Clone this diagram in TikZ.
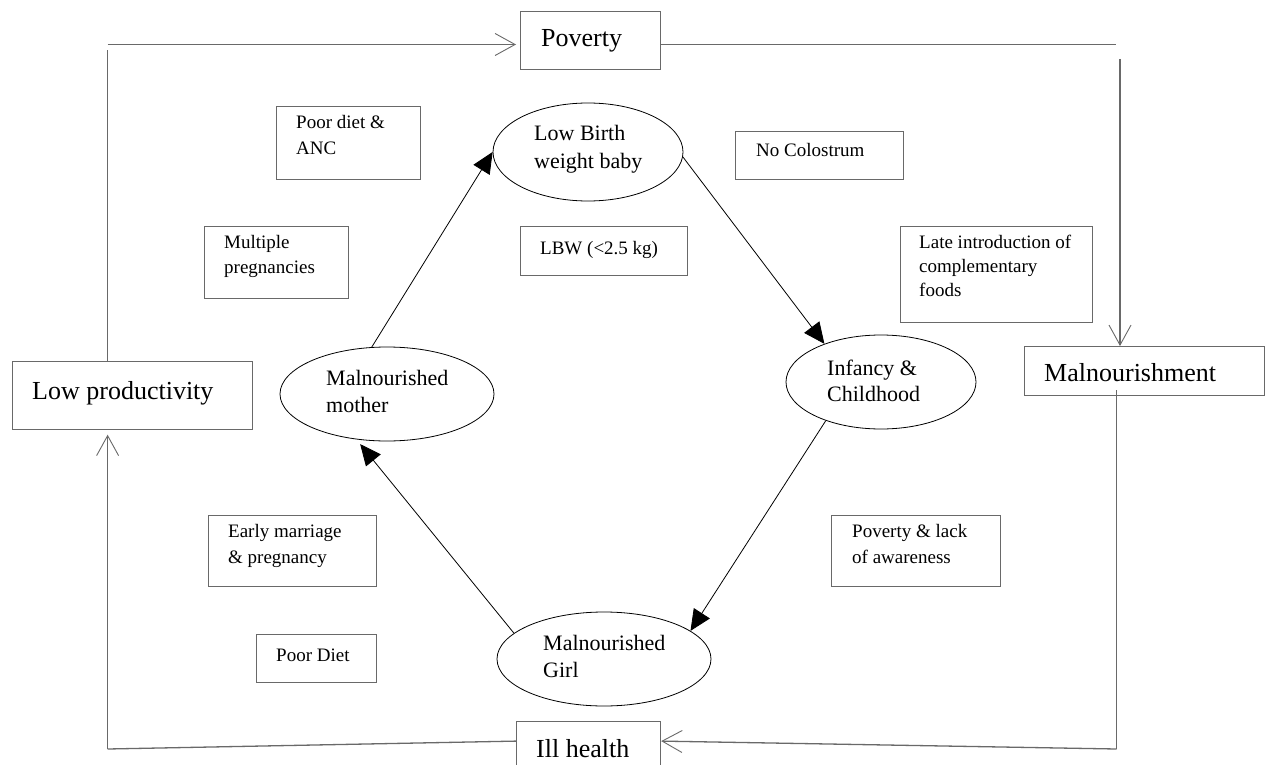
\documentclass[tikz,border=0pt]{standalone}
\usepackage{fontspec}
\setmainfont{Liberation Serif}
\usetikzlibrary{arrows.meta,shapes.geometric}
\definecolor{linegray}{RGB}{105,105,105}
\tikzset{
  box/.style={draw=linegray, line width=1.2pt, rectangle, inner sep=0pt, anchor=north west},
  oval/.style={draw=black, line width=0.8pt, ellipse, inner sep=0pt},
  small/.style={anchor=base west, inner sep=0pt, font=\fontsize{19}{23}\selectfont},
  mid/.style={anchor=base west, inner sep=0pt, font=\fontsize{22}{26}\selectfont},
  big/.style={anchor=base west, inner sep=0pt, font=\fontsize{26}{30}\selectfont},
  cyc/.style={draw=black, line width=0.8pt, -{Triangle[length=21pt,width=19pt]}},
  outer/.style={draw=linegray, line width=1.3pt},
  oarr/.style={outer, -{Straight Barb[length=20pt,width=22pt,line width=0.9pt]}}
}
\begin{document}
\begin{tikzpicture}[x=1pt,y=-1pt]
\useasboundingbox (0,0) rectangle (1269,765);
% outer boxes
\node[box, minimum width=140pt, minimum height=58pt] (poverty) at (520,11) {};
\node[box, minimum width=240pt, minimum height=68pt] (lowprod) at (12,361) {};
\node[box, minimum width=240pt, minimum height=49pt] (malnour) at (1024,346) {};
\node[box, minimum width=144pt, minimum height=46pt] (ill) at (516,721) {};
\node[big] (tpoverty) at (541,47) {Poverty};
\node[big] (tlowprod) at (32,399) {Low productivity};
\node[big] (tmalnour) at (1044,381) {Malnourishment};
\node[big] (till) at (536,757) {Ill health};
% factor boxes
\node[box, minimum width=144pt, minimum height=73pt] (poordiet) at (276,106) {};
\node[box, minimum width=168pt, minimum height=48pt] (nocol) at (735,131) {};
\node[box, minimum width=144pt, minimum height=72pt] (multi) at (204,226) {};
\node[box, minimum width=167pt, minimum height=49pt] (lbwbox) at (520,226) {};
\node[box, minimum width=192pt, minimum height=96pt] (late) at (900,226) {};
\node[box, minimum width=168pt, minimum height=71pt] (early) at (208,515) {};
\node[box, minimum width=169pt, minimum height=71pt] (povlack) at (831,515) {};
\node[box, minimum width=120pt, minimum height=48pt] (poordiet2) at (256,634) {};
\node[small] (t1a) at (296,129) {Poor diet \&};
\node[small] (t1b) at (296,155) {ANC};
\node[small] (t2) at (756,157) {No Colostrum};
\node[small] (t3a) at (224,248) {Multiple};
\node[small] (t3b) at (224,273) {pregnancies};
\node[small] (t4) at (540,254) {LBW (<2.5 kg)};
\node[small] (t5a) at (919,248) {Late introduction of};
\node[small] (t5b) at (919,272) {complementary};
\node[small] (t5c) at (919,296) {foods};
\node[small] (t6a) at (228,537) {Early marriage};
\node[small] (t6b) at (228,563) {\& pregnancy};
\node[small] (t7a) at (852,537) {Poverty \& lack};
\node[small] (t7b) at (852,563) {of awareness};
\node[small] (t8) at (276,661) {Poor Diet};
% cycle ellipses
\node[oval, minimum width=190pt, minimum height=98pt] (lbw) at (588,152) {};
\node[oval, minimum width=214pt, minimum height=94pt] (mother) at (387,394) {};
\node[oval, minimum width=190pt, minimum height=94pt] (infancy) at (881,382) {};
\node[oval, minimum width=214pt, minimum height=94pt] (girl) at (604,659) {};
\node[mid] (e1a) at (534,141) {Low Birth};
\node[mid] (e1b) at (534,168) {weight baby};
\node[mid] (e2a) at (326,385) {Malnourished};
\node[mid] (e2b) at (326,412) {mother};
\node[mid] (e3a) at (827,375) {Infancy \&};
\node[mid] (e3b) at (827,401) {Childhood};
\node[mid] (e4a) at (543,650) {Malnourished};
\node[mid] (e4b) at (543,677) {Girl};
% cycle arrows
\draw[cyc] (mother.108) -- (lbw.west);
\draw[cyc] (lbw.-3) -- (infancy.146);
\draw[cyc] (infancy.215) -- (girl.18);
\draw[cyc, shorten >=6pt] (girl.164) -- (mother.236);
% outer loop
\coordinate (tl) at (107.6,44.5);
\coordinate (tlv) at (107.6,50);
\coordinate (tr) at (1116,44.5);
\coordinate (trv) at (1120,59);
\coordinate (br) at (1116.5,749);
\coordinate (bl) at (107.6,749);
\draw[outer] (tlv |- lowprod.north) -- (tlv);
\draw[oarr, shorten >=4pt] (tl) -- (tl -| poverty.west);
\draw[outer] (tr -| poverty.east) -- (tr);
\draw[oarr] (trv) -- (trv |- malnour.north);
\draw[outer] (br |- malnour.south) ++(0,-6) -- (br);
\draw[oarr] (br) -- ([yshift=3.5pt]ill.east);
\draw[outer] ([yshift=3.5pt]ill.west) -- (bl);
\draw[oarr, shorten >=4.5pt] (bl) -- (bl |- lowprod.south);
\end{tikzpicture}
\end{document}
